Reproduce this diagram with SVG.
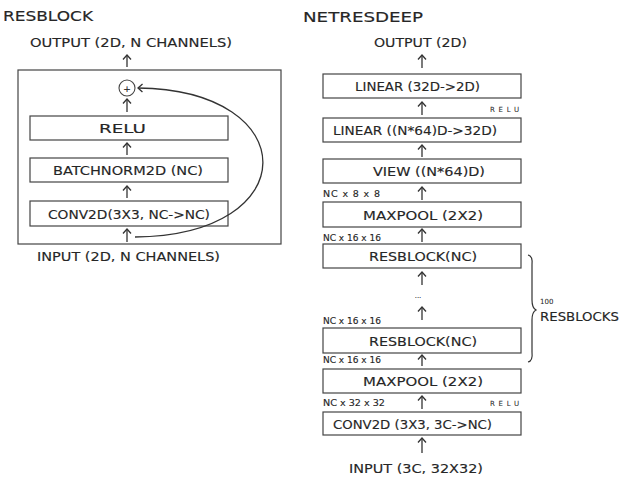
<svg xmlns="http://www.w3.org/2000/svg" width="632" height="479" viewBox="0 0 632 479">
<defs>
<marker id="ah" markerWidth="10" markerHeight="10" refX="5" refY="5" orient="auto" markerUnits="userSpaceOnUse">
<path d="M0.5,1 L5,5 L0.5,9" fill="none" stroke="#333" stroke-width="1.3"/>
</marker>
</defs>
<style>
text{font-family:"DejaVu Sans","Liberation Sans",sans-serif;fill:#262626;stroke:#262626;stroke-width:0.15}
.t{font-size:14px}
.m{font-size:13px}
.s{font-size:9.5px}
.xs{font-size:7px;stroke-width:0.05}
.box{fill:#fff;stroke:#444;stroke-width:1.2}
.ar{stroke:#333;stroke-width:1.3;fill:none;marker-end:url(#ah)}
</style>
<rect width="632" height="479" fill="#fff"/>

<!-- RESBLOCK -->
<text class="t" x="3" y="21" textLength="90" lengthAdjust="spacingAndGlyphs">RESBLOCK</text>
<text class="m" x="30" y="47" textLength="202" lengthAdjust="spacingAndGlyphs">OUTPUT (2D, N CHANNELS)</text>
<text class="m" x="37" y="261" textLength="183" lengthAdjust="spacingAndGlyphs">INPUT (2D, N CHANNELS)</text>
<g id="resblock-frame"><rect x="18" y="70" width="263" height="174" fill="none" stroke="#444" stroke-width="1.2"/></g>
<g id="plus"><circle cx="127" cy="88" r="8" fill="#fff" stroke="#444" stroke-width="1.1"/><text x="127" y="91.5" font-size="9" text-anchor="middle">+</text></g>
<g id="rb-relu"><rect class="box" x="30" y="116" width="198" height="24"/><text class="m" x="99" y="132.5" font-size="13.5" textLength="47" lengthAdjust="spacingAndGlyphs">RELU</text></g>
<g id="rb-bn"><rect class="box" x="30" y="158" width="198" height="24"/><text class="m" x="53" y="174.5" textLength="150" lengthAdjust="spacingAndGlyphs">BATCHNORM2D (NC)</text></g>
<g id="rb-conv"><rect class="box" x="30" y="201" width="198" height="25"/><text class="m" x="48" y="218.5" textLength="162" lengthAdjust="spacingAndGlyphs">CONV2D(3X3, NC-&gt;NC)</text></g>

<!-- NETRESDEEP -->
<text class="t" x="303" y="22" textLength="120" lengthAdjust="spacingAndGlyphs">NETRESDEEP</text>
<text class="m" x="374" y="47" textLength="93" lengthAdjust="spacingAndGlyphs">OUTPUT (2D)</text>
<text class="m" x="349" y="473" textLength="134" lengthAdjust="spacingAndGlyphs">INPUT (3C, 32X32)</text>
<g id="lin2"><rect class="box" x="323" y="74" width="198" height="24"/><text class="m" x="355" y="91" textLength="125" lengthAdjust="spacingAndGlyphs">LINEAR (32D-&gt;2D)</text></g>
<g id="lin1"><rect class="box" x="323" y="118" width="198" height="24"/><text class="m" x="333" y="135" textLength="164" lengthAdjust="spacingAndGlyphs">LINEAR ((N*64)D-&gt;32D)</text></g>
<g id="view"><rect class="box" x="323" y="159" width="198" height="24"/><text class="m" x="373" y="176" textLength="112" lengthAdjust="spacingAndGlyphs">VIEW ((N*64)D)</text></g>
<g id="pool2"><rect class="box" x="323" y="202" width="198" height="25"/><text class="m" x="363" y="219.5" textLength="120" lengthAdjust="spacingAndGlyphs">MAXPOOL (2X2)</text></g>
<g id="res-top"><rect class="box" x="323" y="244" width="198" height="24"/><text class="m" x="369" y="261" textLength="108" lengthAdjust="spacingAndGlyphs">RESBLOCK(NC)</text></g>
<g id="res-bot"><rect class="box" x="323" y="328" width="198" height="25"/><text class="m" x="369" y="345.5" textLength="108" lengthAdjust="spacingAndGlyphs">RESBLOCK(NC)</text></g>
<g id="pool1"><rect class="box" x="323" y="369" width="198" height="24"/><text class="m" x="363" y="386" textLength="120" lengthAdjust="spacingAndGlyphs">MAXPOOL (2X2)</text></g>
<g id="conv"><rect class="box" x="323" y="412" width="198" height="23"/><text class="m" x="333" y="428.5" textLength="159" lengthAdjust="spacingAndGlyphs">CONV2D (3X3, 3C-&gt;NC)</text></g>

<g id="labels">
<text class="xs" x="490" y="112" textLength="29" lengthAdjust="spacing">RELU</text>
<text class="s" x="323" y="197" textLength="57" lengthAdjust="spacing">NC x 8 x 8</text>
<text class="s" x="323" y="241" textLength="58" lengthAdjust="spacingAndGlyphs">NC x 16 x 16</text>
<text class="xs" x="418" y="298" text-anchor="middle">...</text>
<text class="s" x="323" y="324" textLength="58" lengthAdjust="spacingAndGlyphs">NC x 16 x 16</text>
<text class="s" x="323" y="363" textLength="58" lengthAdjust="spacingAndGlyphs">NC x 16 x 16</text>
<text class="s" x="323" y="406" textLength="62" lengthAdjust="spacingAndGlyphs">NC x 32 x 32</text>
<text class="xs" x="490" y="406" textLength="29" lengthAdjust="spacing">RELU</text>
<text class="xs" x="540" y="304">100</text>
<text class="m" x="540" y="321" textLength="79" lengthAdjust="spacingAndGlyphs">RESBLOCKS</text>
</g>

<g id="connectors">
<line class="ar" x1="127" y1="67" x2="127" y2="55"/>
<line class="ar" x1="127" y1="112" x2="127" y2="99"/>
<line class="ar" x1="127" y1="155" x2="127" y2="143"/>
<line class="ar" x1="127" y1="198" x2="127" y2="186"/>
<line class="ar" x1="127" y1="242" x2="127" y2="229"/>
<path class="ar" d="M135,237 C305,236 305,90 138,88"/>

<line class="ar" x1="422" y1="68" x2="422" y2="55"/>
<line class="ar" x1="422" y1="115" x2="422" y2="102"/>
<line class="ar" x1="422" y1="157" x2="422" y2="145"/>
<line class="ar" x1="422" y1="200" x2="422" y2="187"/>
<line class="ar" x1="422" y1="242" x2="422" y2="229"/>
<line class="ar" x1="422" y1="285" x2="422" y2="272"/>
<line class="ar" x1="422" y1="320" x2="422" y2="307"/>
<line class="ar" x1="422" y1="366" x2="422" y2="355"/>
<line class="ar" x1="422" y1="409" x2="422" y2="396"/>
<line class="ar" x1="422" y1="453" x2="422" y2="438"/>
<path d="M528,255 Q533,256 532,265 L532,300 Q532,308 536,310 Q532,312 532,320 L532,352 Q533,361 528,362" fill="none" stroke="#333" stroke-width="1.2"/>
</g>
</svg>
